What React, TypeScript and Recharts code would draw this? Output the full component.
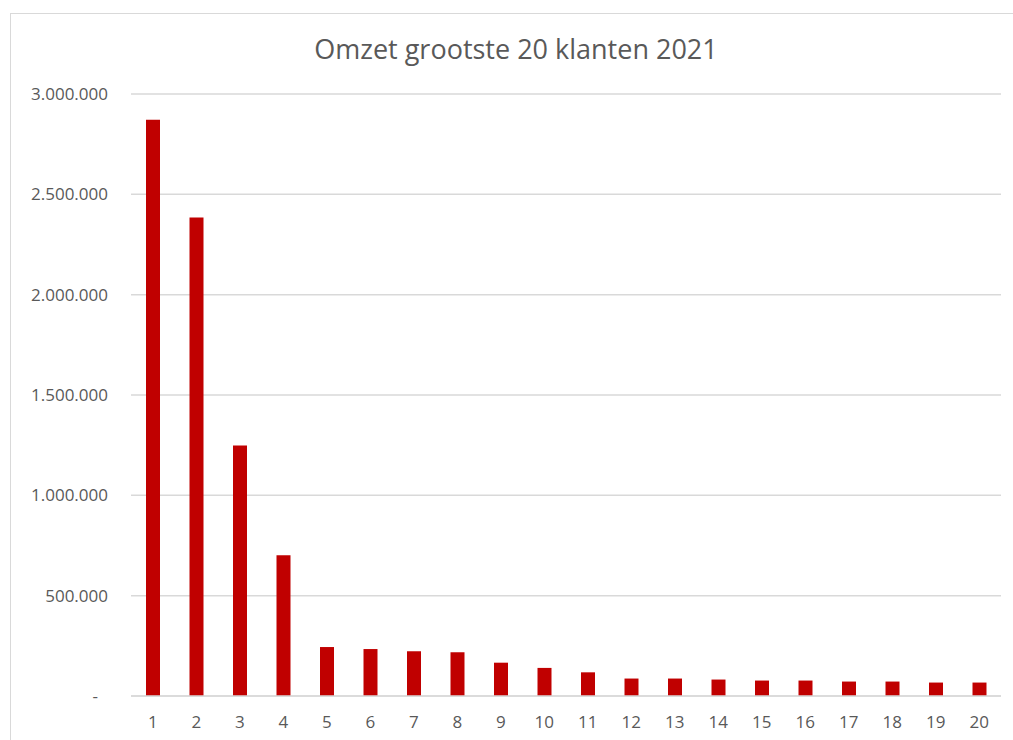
import React from 'react';
import { BarChart, Bar, XAxis, YAxis, CartesianGrid } from 'recharts';

// klant rank 1..20 and their turnover (omzet) in euro
const klanten = ['1', '2', '3', '4', '5', '6', '7', '8', '9', '10', '11', '12', '13', '14', '15', '16', '17', '18', '19', '20'];
const omzet = [
  2872000, 2384000, 1248000, 702000, 244000, 234000, 223000, 218000, 166000, 140000,
  118000, 87000, 87000, 82000, 77000, 77000, 72000, 72000, 67000, 67000,
];
const yTicks = [0, 500000, 1000000, 1500000, 2000000, 2500000, 3000000];

const TEXT = '#595959';
const GRID = '#d9d9d9';
const FONT = '"Open Sans", sans-serif';

const data = klanten.map((k, i) => ({ klant: k, omzet: omzet[i] }));

// Dutch thousands separator, zero shown as "-" like Excel accounting format
const fmt = (v: number) => String(v).replace(/\B(?=(\d{3})+(?!\d))/g, '.');

const YTick = ({ x, y, payload }: any) => {
  const v = payload.value as number;
  return (
    <text
      x={v === 0 ? x - 10 : x}
      y={y}
      dy="0.355em"
      textAnchor="end"
      fill={TEXT}
      fontSize={17}
      fontFamily={FONT}
    >
      {v === 0 ? '-' : fmt(v)}
    </text>
  );
};

export default function App() {
  return (
    <div style={{ position: 'absolute', left: 0, top: 0, width: 1013, height: 740, overflow: 'hidden', background: '#fff' }}>
      <div
        style={{
          position: 'absolute', left: 10, top: 13, width: 1040, height: 780,
          border: `1.5px solid ${GRID}`, boxSizing: 'border-box',
        }}
      />
      <div
        style={{
          position: 'absolute', left: 216, top: 35, width: 600, textAlign: 'center',
          fontFamily: FONT, fontSize: 27, lineHeight: '27px', color: TEXT,
        }}
      >
        Omzet grootste 20 klanten 2021
      </div>
      <div style={{ position: 'absolute', left: 0, top: 0 }}>
        <BarChart width={1013} height={740} data={data} margin={{ top: 94, right: 12, bottom: 0, left: 0 }}>
          <CartesianGrid vertical={false} stroke={GRID} strokeWidth={1.5} />
          <XAxis
            dataKey="klant"
            height={44}
            tickLine={false}
            tickSize={6}
            tickMargin={14}
            axisLine={{ stroke: GRID, strokeWidth: 1.5 }}
            tick={{ fill: TEXT, fontSize: 17, fontFamily: FONT }}
            interval={0}
          />
          <YAxis
            width={131}
            domain={[0, 3000000]}
            ticks={yTicks}
            axisLine={false}
            tickLine={false}
            tickSize={6}
            tickMargin={17}
            tick={<YTick />}
          />
          <Bar dataKey="omzet" fill="#C00000" barSize={14} isAnimationActive={false} />
        </BarChart>
      </div>
    </div>
  );
}
